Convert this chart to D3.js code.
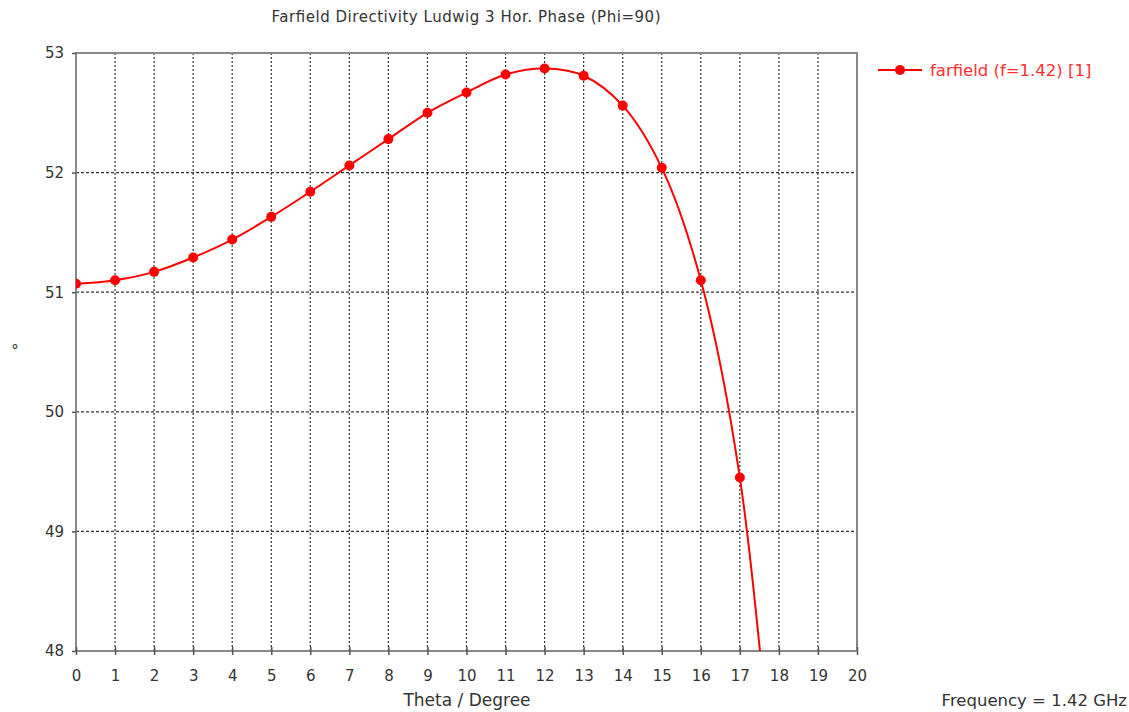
<!DOCTYPE html>
<html>
<head>
<meta charset="utf-8">
<script src="https://cdn.jsdelivr.net/npm/d3@7"></script>
<style>
  body { margin: 0; background: #fff; }
  text { font-family: "DejaVu Sans", sans-serif; fill: #333; }
</style>
</head>
<body>
<svg id="chart" width="1129" height="712"></svg>
<script>
// theta samples and phase values
const theta = [0, 1, 2, 3, 4, 5, 6, 7, 8, 9, 10, 11, 12, 13, 14, 15, 16, 17, 18];
const phase = [51.07, 51.10, 51.17, 51.29, 51.44, 51.63, 51.84, 52.06, 52.28, 52.50,
               52.67, 52.82, 52.87, 52.81, 52.56, 52.04, 51.10, 49.45, 46.3];
const xTicks = d3.range(0, 21);
const yTicks = [48, 49, 50, 51, 52, 53];

const svg = d3.select("#chart");
const margin = { left: 76, top: 53, right: 272, bottom: 61 };
const width = 1129 - margin.left - margin.right;
const height = 712 - margin.top - margin.bottom;

const x = d3.scaleLinear().domain([0, 20]).range([0, width]);
const y = d3.scaleLinear().domain([48, 53]).range([height, 0]);

const g = svg.append("g").attr("transform", `translate(${margin.left},${margin.top})`);

// grid
g.append("g").selectAll("line").data(xTicks.slice(1, -1)).enter().append("line")
    .attr("x1", d => x(d)).attr("x2", d => x(d))
    .attr("y1", 0).attr("y2", height)
    .attr("stroke", "#333").attr("stroke-width", 1.2).attr("stroke-dasharray", "2,2");
g.append("g").selectAll("line").data(yTicks.slice(1, -1)).enter().append("line")
    .attr("x1", 0).attr("x2", width)
    .attr("y1", d => y(d)).attr("y2", d => y(d))
    .attr("stroke", "#333").attr("stroke-width", 1.2).attr("stroke-dasharray", "3,2");

// frame
g.append("rect").attr("width", width).attr("height", height)
    .attr("fill", "none").attr("stroke", "#888").attr("stroke-width", 2);

// axes
const xAxis = g.append("g").attr("transform", `translate(0,${height})`)
    .call(d3.axisBottom(x).tickValues(xTicks).tickSize(4).tickPadding(15));
xAxis.selectAll(".tick line").attr("y1", -4);
const yAxis = g.append("g")
    .call(d3.axisLeft(y).tickValues(yTicks).tickSize(4).tickPadding(8).tickFormat(d3.format("d")));
[xAxis, yAxis].forEach(a => {
    a.select(".domain").remove();
    a.selectAll(".tick line").attr("stroke", "#555").attr("stroke-width", 1.5);
    a.selectAll("text").attr("font-size", 15).attr("fill", "#333")
        .attr("font-family", "DejaVu Sans, sans-serif");
});

// clip
svg.append("defs").append("clipPath").attr("id", "plotclip")
    .append("rect").attr("width", width).attr("height", height);

const pts = theta.map((t, i) => [t, phase[i]]);
const line = d3.line().x(d => x(d[0])).y(d => y(d[1])).curve(d3.curveCatmullRom.alpha(0.5));
const plot = g.append("g").attr("clip-path", "url(#plotclip)");
plot.append("path").datum(pts).attr("d", line)
    .attr("fill", "none").attr("stroke", "#ff0000").attr("stroke-width", 2);
plot.selectAll("circle").data(pts.filter(d => d[1] >= 48)).enter().append("circle")
    .attr("cx", d => x(d[0])).attr("cy", d => y(d[1])).attr("r", 5).attr("fill", "#ff0000");

// titles
svg.append("text").attr("x", 466).attr("y", 22).attr("text-anchor", "middle")
    .attr("font-size", 15).attr("textLength", 389).attr("lengthAdjust", "spacing")
    .text("Farfield Directivity Ludwig 3 Hor. Phase (Phi=90)");
svg.append("text").attr("x", 467).attr("y", 706).attr("text-anchor", "middle")
    .attr("font-size", 17).text("Theta / Degree");
svg.append("text").attr("x", 15).attr("y", 356).attr("text-anchor", "middle")
    .attr("font-size", 15).text("°");
svg.append("text").attr("x", 1127).attr("y", 706).attr("text-anchor", "end")
    .attr("font-size", 16.5).text("Frequency = 1.42 GHz");

// legend
const lg = svg.append("g").attr("transform", "translate(878,70)");
lg.append("line").attr("x1", 0).attr("x2", 44).attr("stroke", "#ff0000").attr("stroke-width", 2);
lg.append("circle").attr("cx", 22).attr("r", 5).attr("fill", "#ff0000");
lg.append("text").attr("x", 52).attr("y", 6).attr("font-size", 16.5)
    .style("fill", "#ff3030").text("farfield (f=1.42) [1]");
</script>
</body>
</html>
